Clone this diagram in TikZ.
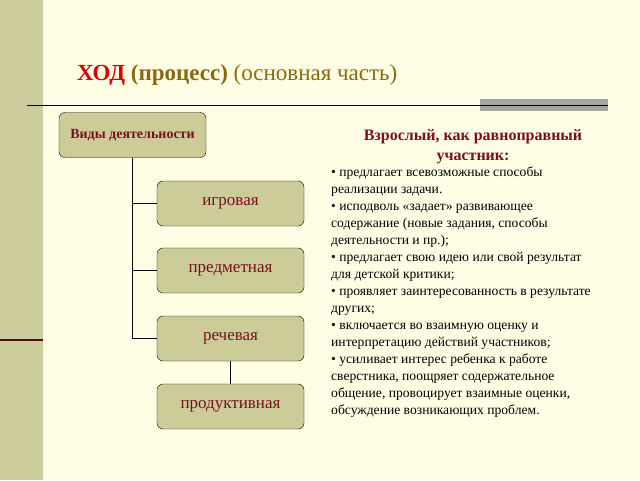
\documentclass[tikz,border=0pt]{standalone}
\usepackage{fontspec}
\setmainfont{Liberation Serif}
\usetikzlibrary{positioning}
\definecolor{cream}{HTML}{FFFFE6}
\definecolor{khaki}{HTML}{CDCC9C}
\definecolor{boxfill}{HTML}{CCCC99}
\definecolor{darkred}{HTML}{7A0F1E}
\definecolor{olive}{HTML}{8A6A10}
\begin{document}
\begin{tikzpicture}[x=1pt,y=-1pt,
  kind/.style={draw=black, rounded corners=6pt, fill=boxfill, minimum width=147pt,
    minimum height=45pt, text=darkred, font=\fontsize{17}{19}\selectfont},
  link/.style={draw=black, line width=1.2pt},
]
\fill[cream] (0,0) rectangle (640,480);
\useasboundingbox (0,0) rectangle (640,480);
\fill[khaki] (0,0) rectangle (43,480);
\draw[line width=1.5pt, darkred!60!black] (0,340) -- (43,340);
\fill[gray!70] (480,99) rectangle (608,111);
\draw[line width=1pt] (27,105) -- (608,105);

\node[anchor=base west, inner sep=0pt] (title) at (77,80)
  {\fontsize{23}{26}\selectfont\textbf{\color{red!85!black}ХОД} \textcolor{olive}{\textbf{(процесс)} (основная часть)}};

\node[kind, font=\bfseries\fontsize{14}{16}\selectfont] (types) at (132.5,135) {Виды деятельности};
\node[kind] (game) at (230.5,203.5) {игровая};
\node[kind] (object) at (230.5,270.5) {предметная};
\node[kind] (speech) at (230.5,338.5) {речевая};
\node[kind] (product) at (230.5,406.5) {продуктивная};

\draw[link] (types.south) -- (types.south |- speech.west) -- (speech.west);
\draw[link] (types.south |- game.west) -- (game.west);
\draw[link] (types.south |- object.west) -- (object.west);
\draw[link] (speech.south) -- (product.north);

\node[text=darkred, font=\bfseries\fontsize{16}{20}\selectfont, align=center] (adult) at (473,147)
  {Взрослый, как равноправный\\участник:};
\node[anchor=north west, align=left, inner sep=0pt, font=\fontsize{13.6}{17}\selectfont] (duties) at (331,167)
  {• предлагает всевозможные способы\\
  реализации задачи.\\
  • исподволь «задает» развивающее\\
  содержание (новые задания, способы\\
  деятельности и пр.);\\
  • предлагает свою идею или свой результат\\
  для детской критики;\\
  • проявляет заинтересованность в результате\\
  других;\\
  • включается во взаимную оценку и\\
  интерпретацию действий участников;\\
  • усиливает интерес ребенка к работе\\
  сверстника, поощряет содержательное\\
  общение, провоцирует взаимные оценки,\\
  обсуждение возникающих проблем.};
\end{tikzpicture}
\end{document}
